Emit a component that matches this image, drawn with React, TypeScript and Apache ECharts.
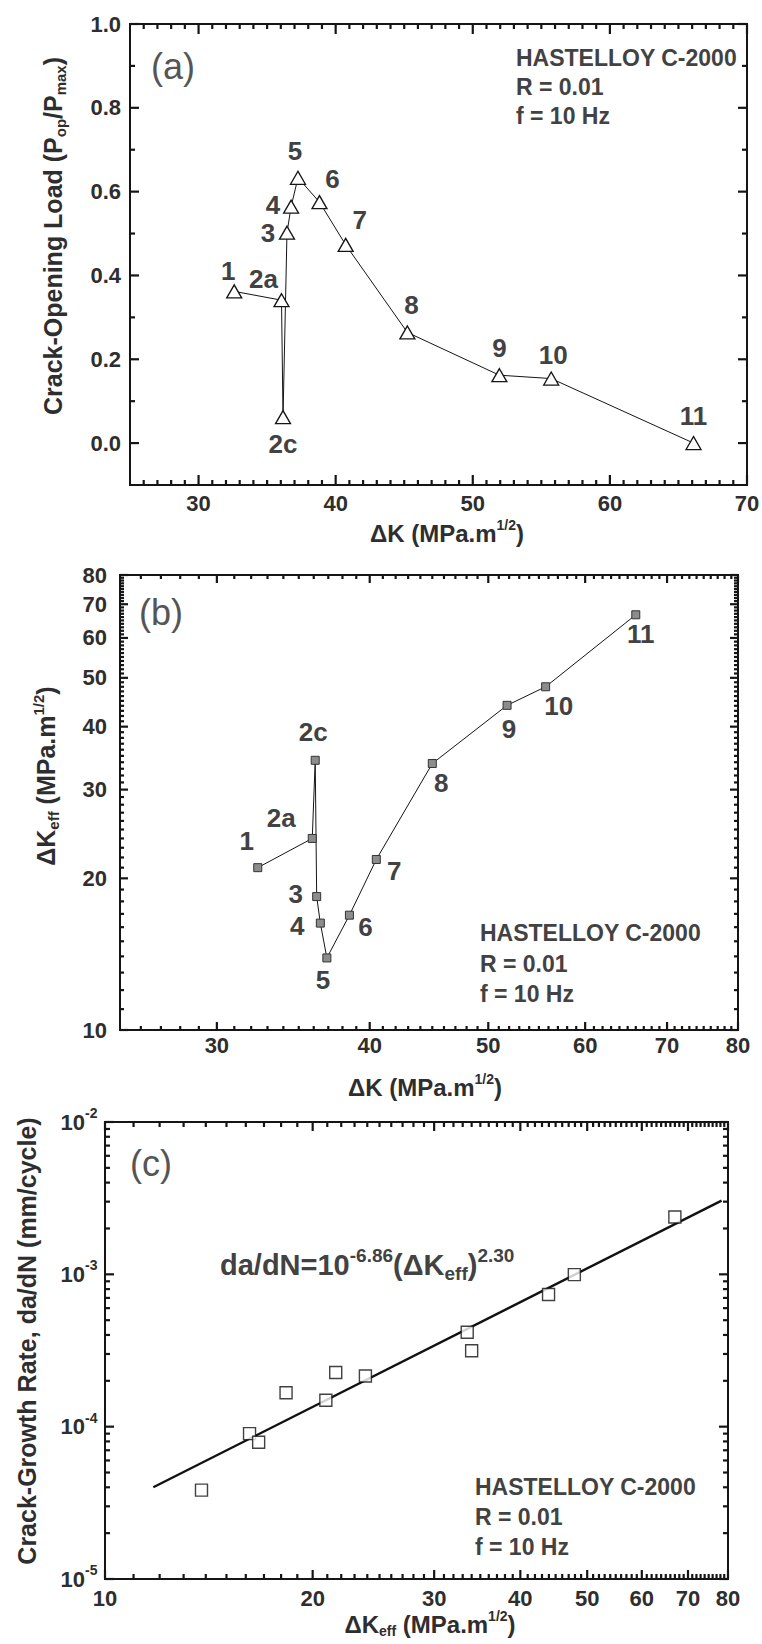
import React, { useEffect, useRef } from 'react';
import * as echarts from 'echarts';

// ---------------- data ----------------
const pointLabels = ['1', '2a', '2c', '3', '4', '5', '6', '7', '8', '9', '10', '11'];

// panel (a): crack-opening load ratio vs ΔK
const aDeltaK = [32.6, 36.05, 36.16, 36.45, 36.75, 37.25, 38.82, 40.73, 45.23, 51.94, 55.72, 66.1];
const aPopRatio = [0.362, 0.341, 0.062, 0.502, 0.564, 0.633, 0.575, 0.473, 0.264, 0.162, 0.154, 0.0];

// panel (b): ΔKeff vs ΔK
const bDeltaK = [32.4, 35.9, 36.1, 36.2, 36.45, 36.9, 38.5, 40.5, 45.0, 51.8, 55.7, 66.0];
const bDeltaKeff = [21.0, 24.0, 34.3, 18.4, 16.3, 13.9, 16.9, 21.8, 33.8, 44.1, 48.0, 66.7];

// panel (c): crack-growth rate vs ΔKeff
const cDeltaKeff = [13.8, 16.2, 16.7, 18.3, 20.9, 21.6, 23.85, 33.5, 34.0, 43.95, 47.9, 67.0];
const cRate = [3.83e-5, 9.0e-5, 7.9e-5, 1.67e-4, 1.49e-4, 2.27e-4, 2.15e-4, 4.17e-4, 3.15e-4, 7.38e-4, 9.95e-4, 2.38e-3];
const fitDeltaKeff = [11.75, 78.3];
const fitRate = [4.0e-5, 3.05e-3];

// tick labels
const aXTickValues = [30, 40, 50, 60, 70];
const aYTickValues = [0.0, 0.2, 0.4, 0.6, 0.8, 1.0];
const bXTickValues = [30, 40, 50, 60, 70, 80];
const bYTickValues = [10, 20, 30, 40, 50, 60, 70, 80];
const cXTickValues = [10, 20, 30, 40, 50, 60, 70, 80];
const cYTickExponents = [-5, -4, -3, -2];

// ---------------- layout / style ----------------
const FONT = "'Liberation Sans', Arial, Helvetica, sans-serif";
const INK = '#151515';
const TXT = '#2e2e2e';
const TXT2 = '#424242';

const GRID_A = { left: 130, top: 24, width: 617, height: 461 };
const GRID_B = { left: 120, top: 575, width: 618, height: 455 };
const GRID_C = { left: 105, top: 1122, width: 623, height: 457 };

const RANGES = [
  { x: [25, 70], y: [-0.1, 1.0] },
  { x: [25, 80], y: [10, 80] },
  { x: [10, 80], y: [1e-5, 1e-2] },
];

const LABEL_CFG = [
  { xGap: 18, yGap: 9, supDy: 9, supSize: 14 },
  { xGap: 15, yGap: 13, supDy: 9, supSize: 14 },
  { xGap: 19, yGap: 20, supDy: 9, supSize: 14 },
];

const aLabelOffsets = [[-6, -20], [-18, -21], [0, 27], [-19, 0], [-18, -2], [-3, -27], [13, -23], [14, -25], [4, -27], [0, -27], [2, -24], [0, -27]];
const bLabelOffsets = [[-11, -27], [-31, -20], [-2, -28], [-21, -3], [-23, 3], [-4, 22], [16, 12], [18, 12], [9, 19], [2, 24], [13, 19], [5, 19]];

const TICK_SIZE = 22;

function plainText(x: number, y: number, text: string, align: string, size: number) {
  return {
    type: 'text',
    x,
    y,
    z: 100,
    style: {
      text,
      fill: TXT,
      font: `bold ${size}px ${FONT}`,
      align,
      verticalAlign: 'middle',
      textAlign: align,
      textVerticalAlign: 'middle',
    },
  };
}

function richTokens(size: number, color: string, ratio = 0.6) {
  const s = Math.round(size * ratio);
  const base = { fontWeight: 'bold', fontFamily: FONT, fill: color, color };
  return {
    n: { ...base, fontSize: size },
    sub: { ...base, fontSize: s, padding: [Math.round(size * 0.55), 0, 0, 0] },
    sup: { ...base, fontSize: s, padding: [0, 0, Math.round(size * 0.65), 0] },
  };
}

function gtext(x: number, y: number, text: string, size: number, opts: any = {}) {
  const color = opts.color || TXT;
  const weight = opts.weight || 'bold';
  const align = opts.align || 'center';
  const style: any = {
    text,
    fill: color,
    font: `${weight} ${size}px ${FONT}`,
    align,
    verticalAlign: 'middle',
    textAlign: align,
    textVerticalAlign: 'middle',
  };
  if (opts.rich) style.rich = richTokens(size, color, opts.ratio || 0.6);
  return { type: 'text', x, y, rotation: opts.rotation || 0, z: 100, style };
}

function titleGraphics() {
  return [
    // panel (a)
    gtext(173, 66, '(a)', 36, { weight: 'normal', color: '#555' }),
    gtext(516, 58, 'HASTELLOY C-2000', 23, { align: 'left', color: TXT2 }),
    gtext(516, 87, 'R = 0.01', 23, { align: 'left', color: TXT2 }),
    gtext(516, 116, 'f = 10 Hz', 23, { align: 'left', color: TXT2 }),
    gtext(447, 533, '{n|ΔK (MPa.m}{sup|1/2}{n|)}', 24, { rich: true }),
    gtext(53, 236, '{n|Crack-Opening Load (P}{sub|op}{n|/P}{sub|max}{n|)}', 25, { rich: true, rotation: Math.PI / 2 }),
    // panel (b)
    gtext(161, 612, '(b)', 36, { weight: 'normal', color: '#555' }),
    gtext(480, 933, 'HASTELLOY C-2000', 23, { align: 'left', color: TXT2 }),
    gtext(480, 964, 'R = 0.01', 23, { align: 'left', color: TXT2 }),
    gtext(480, 994, 'f = 10 Hz', 23, { align: 'left', color: TXT2 }),
    gtext(425, 1087, '{n|ΔK (MPa.m}{sup|1/2}{n|)}', 24, { rich: true }),
    gtext(46, 776, '{n|ΔK}{sub|eff}{n| (MPa.m}{sup|1/2}{n|)}', 25, { rich: true, rotation: Math.PI / 2 }),
    // panel (c)
    gtext(151, 1163, '(c)', 36, { weight: 'normal', color: '#555' }),
    gtext(220, 1265, '{n|da/dN=10}{sup|-6.86}{n|(ΔK}{sub|eff}{n|)}{sup|2.30}', 29, { rich: true, align: 'left', color: TXT2, ratio: 0.65 }),
    gtext(475, 1487, 'HASTELLOY C-2000', 23, { align: 'left', color: TXT2 }),
    gtext(475, 1517, 'R = 0.01', 23, { align: 'left', color: TXT2 }),
    gtext(475, 1547, 'f = 10 Hz', 23, { align: 'left', color: TXT2 }),
    gtext(430, 1624, '{n|ΔK}{sub|eff}{n| (MPa.m}{sup|1/2}{n|)}', 24, { rich: true }),
    gtext(27, 1341, '{n|Crack-Growth Rate, da/dN (mm/cycle)}', 25, { rich: true, rotation: Math.PI / 2 }),
  ];
}

function baseOption() {
  const hiddenAxis = {
    axisLine: { show: false },
    axisTick: { show: false },
    axisLabel: { show: false },
    splitLine: { show: false },
  };
  const gridBase = {
    show: true,
    borderColor: INK,
    borderWidth: 2,
    backgroundColor: 'rgba(0,0,0,0)',
  };
  const labelStyle = {
    show: true,
    position: 'inside',
    color: TXT2,
    fontSize: 26,
    fontWeight: 'bold',
    fontFamily: FONT,
  };
  return {
    animation: false,
    backgroundColor: '#ffffff',
    grid: [
      { ...gridBase, ...GRID_A },
      { ...gridBase, ...GRID_B },
      { ...gridBase, ...GRID_C },
    ],
    xAxis: RANGES.map((r, i) => ({
      gridIndex: i,
      type: i === 0 ? 'value' : 'log',
      ...(i === 0 ? {} : { logBase: 10 }),
      min: r.x[0],
      max: r.x[1],
      ...hiddenAxis,
    })),
    yAxis: RANGES.map((r, i) => ({
      gridIndex: i,
      type: i === 0 ? 'value' : 'log',
      ...(i === 0 ? {} : { logBase: 10 }),
      min: r.y[0],
      max: r.y[1],
      ...hiddenAxis,
    })),
    series: [
      {
        type: 'line',
        xAxisIndex: 0,
        yAxisIndex: 0,
        z: 20,
        symbol: 'triangle',
        symbolSize: [15, 13],
        lineStyle: { color: INK, width: 1 },
        itemStyle: { color: '#ffffff', borderColor: INK, borderWidth: 1.3 },
        data: aDeltaK.map((x, i) => ({
          value: [x, aPopRatio[i]],
          label: { ...labelStyle, formatter: pointLabels[i], offset: aLabelOffsets[i] },
        })),
      },
      {
        type: 'line',
        xAxisIndex: 1,
        yAxisIndex: 1,
        z: 20,
        symbol: 'rect',
        symbolSize: 8,
        lineStyle: { color: INK, width: 1 },
        itemStyle: { color: '#8c8c8c', borderColor: '#333', borderWidth: 1 },
        data: bDeltaK.map((x, i) => ({
          value: [x, bDeltaKeff[i]],
          label: { ...labelStyle, formatter: pointLabels[i], offset: bLabelOffsets[i] },
        })),
      },
      {
        type: 'line',
        xAxisIndex: 2,
        yAxisIndex: 2,
        z: 15,
        symbol: 'none',
        lineStyle: { color: '#111', width: 2.4 },
        data: fitDeltaKeff.map((x, i) => [x, fitRate[i]]),
      },
      {
        type: 'scatter',
        xAxisIndex: 2,
        yAxisIndex: 2,
        z: 20,
        symbol: 'rect',
        symbolSize: 12,
        itemStyle: { color: '#ffffff', borderColor: '#111', borderWidth: 1.4 },
        data: cDeltaKeff.map((x, i) => [x, cRate[i]]),
      },
    ],
  };
}

export default function App() {
  const ref = useRef<HTMLDivElement>(null);
  useEffect(() => {
    if (!ref.current) return;
    const chart = echarts.init(ref.current, null, { renderer: 'svg' });
    chart.setOption(baseOption() as any);

    const els: any[] = [...titleGraphics()];
    const line = (x1: number, y1: number, x2: number, y2: number) =>
      els.push({ type: 'line', z: 60, shape: { x1, y1, x2, y2 }, style: { stroke: INK, lineWidth: 2.2 } });

    const xTick = (idx: number, v: number, len: number, label?: string) => {
      const yr = RANGES[idx].y;
      const b = chart.convertToPixel({ xAxisIndex: idx, yAxisIndex: idx }, [v, yr[0]]) as any;
      const tp = chart.convertToPixel({ xAxisIndex: idx, yAxisIndex: idx }, [v, yr[1]]) as any;
      line(b[0], b[1], b[0], b[1] - len);
      line(tp[0], tp[1], tp[0], tp[1] + len);
      if (label) els.push(plainText(b[0], b[1] + LABEL_CFG[idx].xGap, label, 'center', TICK_SIZE));
    };
    const yTick = (idx: number, v: number, len: number, label?: string, sup?: string) => {
      const xr = RANGES[idx].x;
      const l = chart.convertToPixel({ xAxisIndex: idx, yAxisIndex: idx }, [xr[0], v]) as any;
      const r = chart.convertToPixel({ xAxisIndex: idx, yAxisIndex: idx }, [xr[1], v]) as any;
      line(l[0], l[1], l[0] + len, l[1]);
      line(r[0], r[1], r[0] - len, r[1]);
      const cfg = LABEL_CFG[idx];
      if (label) {
        els.push(plainText(l[0] - cfg.yGap, l[1], label, 'right', TICK_SIZE));
        if (sup) els.push(plainText(l[0] - cfg.yGap, l[1] - cfg.supDy, sup, 'left', cfg.supSize));
      }
    };

    // panel (a)
    for (let v = 26; v <= 70; v++) {
      xTick(0, v, v % 10 === 0 ? 10 : 5, aXTickValues.includes(v) ? String(v) : undefined);
    }
    for (let k = 0; k <= 10; k++) {
      const v = k / 10;
      const lab = aYTickValues.find((t) => Math.abs(t - v) < 1e-9);
      yTick(0, v, k % 2 === 0 ? 9 : 5, lab !== undefined ? lab.toFixed(1) : undefined);
    }
    // panel (b)
    for (let v = 26; v <= 80; v++) {
      xTick(1, v, v % 10 === 0 ? 8 : 4, bXTickValues.includes(v) ? String(v) : undefined);
    }
    for (let v = 10; v <= 80; v++) {
      yTick(1, v, v % 10 === 0 ? 8 : 4, bYTickValues.includes(v) ? String(v) : undefined);
    }
    // panel (c)
    for (let v = 10; v <= 80; v++) {
      xTick(2, v, v % 10 === 0 ? 9 : 5, cXTickValues.includes(v) ? String(v) : undefined);
    }
    cYTickExponents.forEach((e) => {
      const base = Math.pow(10, e);
      yTick(2, base, 9, '10', String(e));
      if (e < -2) {
        for (let m = 2; m <= 9; m++) yTick(2, m * base, 5);
      }
    });

    chart.setOption({ graphic: els } as any);
    return () => chart.dispose();
  }, []);
  return (
    <div
      ref={ref}
      style={{ position: 'absolute', left: 0, top: 0, width: 762, height: 1644, background: '#fff' }}
    />
  );
}
